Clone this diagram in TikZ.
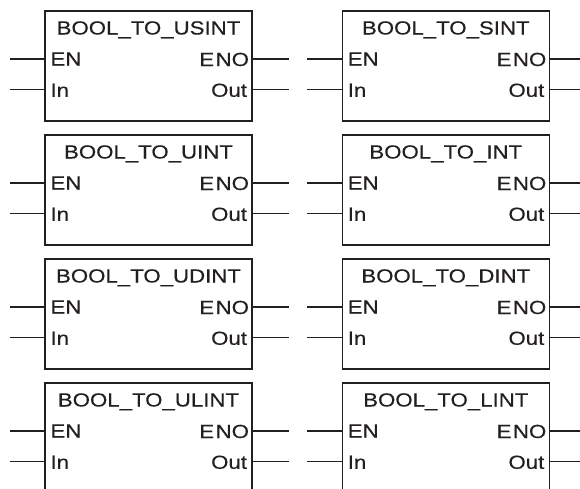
\documentclass[tikz,border=0pt]{standalone}
\usepackage{fontspec}
\setmainfont{Liberation Sans}[FakeStretch=1.17,FakeBold=0.4]
\definecolor{ink}{RGB}{35,31,32}
\tikzset{
  fblock/.style={draw=ink, line width=1.2pt, minimum width=207pt, minimum height=110pt,
    inner sep=0pt, outer sep=0pt, anchor=north west},
  lbl/.style={inner sep=0pt, outer sep=0pt, text=ink, font=\fontsize{19}{21}\selectfont},
  stub/.style={draw=ink, line width=1.2pt},
}
\newcommand{\fblk}[4]{%
  \node[fblock] (#1) at (#2,#3) {};
  \node[lbl, anchor=base] (#1-t) at ([yshift=-23.5pt]#1.north) {#4};
  \node[lbl, anchor=base west] (#1-en) at ([xshift=5.5pt,yshift=-54.5pt]#1.north west) {EN};
  \node[lbl, anchor=base west] (#1-in) at ([xshift=5.5pt,yshift=-85.8pt]#1.north west) {In};
  \node[lbl, anchor=base east] (#1-eno) at ([xshift=-3pt,yshift=-55pt]#1.north east) {E\kern1.5pt NO};
  \node[lbl, anchor=base east] (#1-out) at ([xshift=-5pt,yshift=-85.8pt]#1.north east) {Out};
  \coordinate (#1-a) at ([yshift=-48pt]#1.north west);
  \coordinate (#1-b) at ([yshift=-78.5pt]#1.north west);
  \coordinate (#1-c) at ([yshift=-48pt]#1.north east);
  \coordinate (#1-d) at ([yshift=-78.7pt]#1.north east);
  \draw[stub] (#1-a) -- ++(-35,0);
  \draw[stub] (#1-b) -- ++(-35,0);
  \draw[stub] (#1-c) -- ++(37,0);
  \draw[stub] (#1-d) -- ++(37,0);
}
\begin{document}
\begin{tikzpicture}[x=1pt,y=-1pt]
  \useasboundingbox (0,0) rectangle (580,488);
  \clip (0,0) rectangle (580,488);
  \fblk{b1}{45}{11}{BOOL\_TO\_USINT}
  \fblk{b2}{342.3}{11}{BOOL\_TO\_SINT}
  \fblk{b3}{45}{135}{BOOL\_TO\_UINT}
  \fblk{b4}{342.3}{135}{BOOL\_TO\_INT}
  \fblk{b5}{45}{259}{BOOL\_TO\_UDINT}
  \fblk{b6}{342.3}{259}{BOOL\_TO\_DINT}
  \fblk{b7}{45}{383}{BOOL\_TO\_ULINT}
  \fblk{b8}{342.3}{383}{BOOL\_TO\_LINT}
\end{tikzpicture}
\end{document}
